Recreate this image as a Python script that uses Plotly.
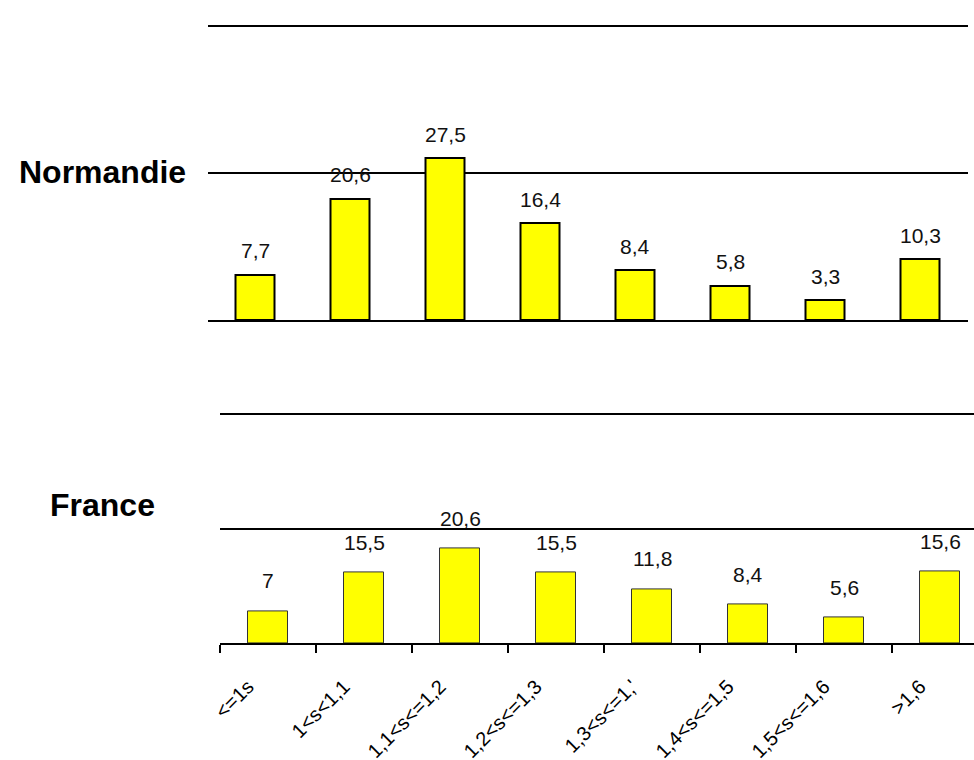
import plotly.graph_objects as go

categories = ["<=1s", "1<s<1,1", "1,1<s<=1,2", "1,2<s<=1,3", "1,3<s<=1,'", "1,4<s<=1,5", "1,5<s<=1,6", ">1,6"]
normandie = [7.7, 20.6, 27.5, 16.4, 8.4, 5.8, 3.3, 10.3]
france = [7, 15.5, 20.6, 15.5, 11.8, 8.4, 5.6, 15.6]

FONT = "Liberation Sans, Arial, sans-serif"
W, H = 974, 760


def fmt(v):
    return f"{v:g}".replace(".", ",")


def fx(px):
    return px / W


def fy(py):
    return 1 - py / H


fig = go.Figure()
fig.add_trace(go.Bar(x=categories, y=normandie, xaxis="x", yaxis="y", width=0.41,
                     marker=dict(color="#FFFF00", line=dict(color="black", width=2)),
                     hoverinfo="skip"))
fig.add_trace(go.Bar(x=categories, y=france, xaxis="x2", yaxis="y2", width=0.42,
                     marker=dict(color="#FFFF00", line=dict(color="#333333", width=1)),
                     hoverinfo="skip"))

annotations = []
for c, v in zip(categories, normandie):
    annotations.append(dict(x=c, y=v, xref="x", yref="y", text=fmt(v), showarrow=False,
                            yanchor="middle", yshift=24, font=dict(size=21, color="#111111", family=FONT)))
for c, v in zip(categories, france):
    annotations.append(dict(x=c, y=v, xref="x2", yref="y2", text=fmt(v), showarrow=False,
                            yanchor="middle", yshift=30, font=dict(size=21, color="#111111", family=FONT)))

annotations.append(dict(x=fx(102.5), y=fy(171.5), xref="paper", yref="paper", text="<b>Normandie</b>",
                        showarrow=False, xanchor="center", yanchor="middle",
                        font=dict(size=32, color="black", family=FONT)))
annotations.append(dict(x=fx(102), y=fy(505), xref="paper", yref="paper", text="<b>France</b>",
                        showarrow=False, xanchor="center", yanchor="middle",
                        font=dict(size=32, color="black", family=FONT)))

yaxis_common = dict(range=[0, 51], tickvals=[0, 25, 50], showticklabels=False, showgrid=True,
                    gridcolor="black", gridwidth=2, zeroline=False, showline=False, ticks="",
                    automargin=False)

top_px = 294 / 50   # pixels per unit, top panel (0 at y=320, 50 at y=26)
bot_px = 229 / 50   # pixels per unit, bottom panel (0 at y=643, 50 at y=414)

fig.update_layout(
    width=W, height=H, autosize=False,
    margin=dict(l=0, r=0, t=0, b=0, pad=0, autoexpand=False),
    paper_bgcolor="white", plot_bgcolor="white",
    showlegend=False,
    font=dict(family=FONT, color="black"),
    xaxis=dict(domain=[fx(207.5), fx(968)], anchor="y", type="category",
               categoryorder="array", categoryarray=categories, range=[-0.5, -0.5 + 760.5 / 95],
               showline=True, linecolor="black", linewidth=2, showticklabels=False,
               ticks="", showgrid=False, zeroline=False, automargin=False),
    yaxis=dict(domain=[fy(320), fy(26 - top_px)], anchor="x", **yaxis_common),
    xaxis2=dict(domain=[fx(220), 1.0], anchor="y2", type="category",
                categoryorder="array", categoryarray=categories, range=[-0.5, -0.5 + 754 / 96],
                showline=True, linecolor="black", linewidth=2, ticks="outside", ticklen=8,
                tickwidth=2, tickcolor="black", tickson="boundaries", tickangle=-45,
                ticklabelstandoff=22, ticklabelshift=-20, automargin=False,
                tickfont=dict(size=20, color="black", family=FONT), showgrid=False, zeroline=False),
    yaxis2=dict(domain=[fy(643), fy(414 - bot_px)], anchor="x2", **yaxis_common),
    annotations=annotations,
    bargap=0,
)

fig.write_html("out.html", config={"displayModeBar": False},
               post_script="document.body.style.margin='0';")
